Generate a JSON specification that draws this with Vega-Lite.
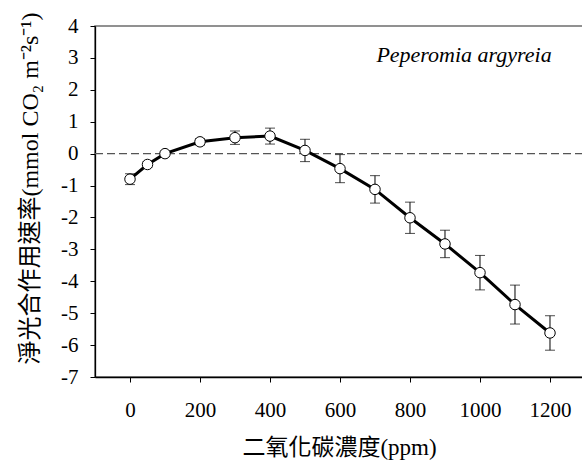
{
  "$schema": "https://vega.github.io/schema/vega-lite/v6.json",
  "width": 488,
  "height": 351,
  "autosize": {"type": "none"},
  "padding": {"left": 95, "top": 26, "right": 0, "bottom": 86},
  "background": "white",
  "config": {
    "view": {"stroke": "#6e6e6e", "strokeWidth": 1.6},
    "font": "Liberation Serif, Noto Sans CJK TC",
    "axis": {
      "grid": false,
      "domainColor": "black",
      "domainWidth": 1.3,
      "tickColor": "black",
      "tickSize": 5,
      "labelFont": "Liberation Serif",
      "labelFontSize": 21,
      "labelColor": "black",
      "labelOverlap": false,
      "titleFont": "Liberation Serif, Noto Sans CJK TC",
      "titleFontWeight": "normal",
      "titleColor": "black"
    }
  },
  "data": {
    "values": [
      {"co2": 0, "rate": -0.8, "err": 0.17},
      {"co2": 50, "rate": -0.34, "err": 0.08},
      {"co2": 100, "rate": 0.0, "err": 0.07},
      {"co2": 200, "rate": 0.37, "err": 0.1},
      {"co2": 300, "rate": 0.5, "err": 0.21},
      {"co2": 400, "rate": 0.55, "err": 0.25},
      {"co2": 500, "rate": 0.1, "err": 0.35},
      {"co2": 600, "rate": -0.47, "err": 0.44},
      {"co2": 700, "rate": -1.12, "err": 0.43},
      {"co2": 800, "rate": -2.01, "err": 0.49},
      {"co2": 900, "rate": -2.83, "err": 0.43},
      {"co2": 1000, "rate": -3.73, "err": 0.54},
      {"co2": 1100, "rate": -4.73, "err": 0.61},
      {"co2": 1200, "rate": -5.62, "err": 0.54}
    ]
  },
  "encoding": {
    "x": {
      "field": "co2",
      "type": "quantitative",
      "scale": {"domain": [-100, 1294.3], "nice": false, "zero": false},
      "axis": {
        "values": [0, 200, 400, 600, 800, 1000, 1200],
        "format": "d",
        "title": "二氧化碳濃度(ppm)",
        "titleFontSize": 23,
        "labelPadding": 17,
        "titlePadding": 16
      }
    },
    "y": {
      "field": "rate",
      "type": "quantitative",
      "scale": {"domain": [-7, 4], "nice": false, "zero": false},
      "axis": {
        "values": [-7, -6, -5, -4, -3, -2, -1, 0, 1, 2, 3, 4],
        "labelExpr": "datum.value < 0 ? '-' + abs(datum.value) : '' + datum.value",
        "title": "淨光合作用速率(mmol CO₂ m⁻²s⁻¹)",
        "titleFontSize": 24,
        "titleY": 162,
        "labelPadding": 12,
        "titlePadding": 18
      }
    }
  },
  "layer": [
    {
      "transform": [{"filter": "datum.co2 == 0"}],
      "mark": {"type": "rule", "color": "#555555", "strokeWidth": 1.2, "strokeDash": [8, 4]},
      "encoding": {"y": {"datum": 0}, "x": null}
    },
    {
      "mark": {"type": "errorbar", "color": "black", "ticks": {"size": 10, "color": "black"}, "rule": {"strokeWidth": 1}},
      "encoding": {
        "yError": {"field": "err"}
      }
    },
    {
      "mark": {"type": "line", "color": "black", "strokeWidth": 3}
    },
    {
      "mark": {"type": "point", "shape": "circle", "filled": true, "fill": "white", "stroke": "black", "strokeWidth": 1, "size": 110, "opacity": 1}
    },
    {
      "transform": [{"filter": "datum.co2 == 0"}],
      "mark": {"type": "text", "font": "Liberation Serif", "fontStyle": "italic", "fontWeight": "normal", "fontSize": 22, "align": "right", "baseline": "middle", "color": "black", "text": "Peperomia argyreia"},
      "encoding": {
        "x": {"datum": 1205},
        "y": {"datum": 3.08}
      }
    }
  ]
}
